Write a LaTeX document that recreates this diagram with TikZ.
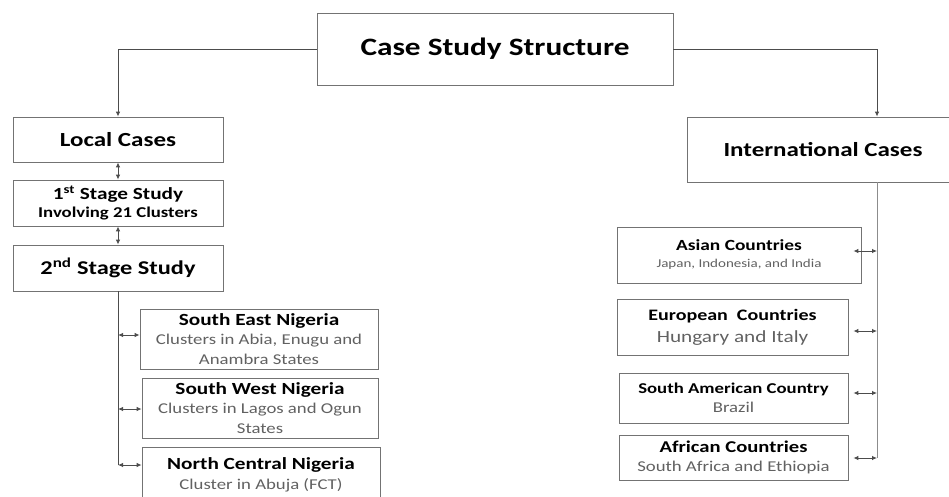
\documentclass[tikz,border=0pt]{standalone}
\usepackage{fontspec}
\setmainfont{Carlito}[FakeStretch=1.25]
\usetikzlibrary{arrows.meta,positioning,calc}

\newcommand\subtxt[2][15]{{\fontsize{#1}{#1}\selectfont\mdseries\color{black!62}#2}}

\begin{document}
\begin{tikzpicture}[x=1pt, y=-1pt,
  box/.style={draw=black!55, line width=0.8pt, align=center, inner sep=0pt},
  big/.style={font=\fontsize{25}{30}\selectfont\bfseries},
  head/.style={font=\fontsize{20}{24}\selectfont\bfseries},
  part/.style={font=\fontsize{17}{19.5}\selectfont\bfseries},
  line/.style={draw=black!70, line width=0.9pt},
  link/.style={line, -{Latex[length=5pt,width=4.5pt]}},
  both/.style={line, {Latex[length=5pt,width=4.5pt]}-{Latex[length=5pt,width=4.5pt]}},
]
\useasboundingbox (0,0) rectangle (949,497);

\node[box, big, minimum width=356pt, minimum height=72pt] (title) at (495,49) {Case Study Structure};

% local cases
\node[box, head, minimum width=210pt, minimum height=45pt] (local) at (118,139.5) {Local Cases};
\node[box, font=\fontsize{17}{18}\selectfont\bfseries, minimum width=210pt, minimum height=46pt] (stage1) at (118,203)
  {1\textsuperscript{st} Stage Study\\{\fontsize{15}{15}\selectfont Involving 21 Clusters}};
\node[box, font=\fontsize{19.5}{24}\selectfont\bfseries, minimum width=210pt, minimum height=46pt] (stage2) at (118,268)
  {2\textsuperscript{nd} Stage Study};

\node[box, part, minimum width=238pt, minimum height=60pt] (se) at (259,339)
  {South East Nigeria\\\subtxt{Clusters in Abia, Enugu and}\\\subtxt{Anambra States}};
\node[box, part, minimum width=236pt, minimum height=60pt] (sw) at (260,408)
  {South West Nigeria\\\subtxt{Clusters in Lagos and Ogun}\\\subtxt{States}};
\node[box, part, minimum width=238pt, minimum height=56pt] (nc) at (261,475)
  {North Central Nigeria\\\subtxt{Cluster in Abuja (FCT)}};

% international cases
\node[box, head, minimum width=272pt, minimum height=65pt] (intl) at (823,149.5) {International Cases};
\node[box, font=\fontsize{15.5}{17}\selectfont\bfseries, minimum width=244pt, minimum height=56pt] (asia) at (739,255)
  {Asian Countries\\\subtxt[12]{Japan, Indonesia, and India}};
\node[box, font=\fontsize{16}{22}\selectfont\bfseries, minimum width=231pt, minimum height=56pt] (euro) at (732.5,327)
  {European~ Countries\\\subtxt[17]{Hungary and Italy}};
\node[box, font=\fontsize{15}{19}\selectfont\bfseries, minimum width=229pt, minimum height=50pt] (samer) at (733.5,398)
  {South American Country\\\subtxt{Brazil}};
\node[box, font=\fontsize{16.5}{19}\selectfont\bfseries, minimum width=229pt, minimum height=45pt] (afr) at (733.5,457.5)
  {African Countries\\\subtxt{South Africa and Ethiopia}};

% connectors
\draw[link] (title.west) -| (local.north);
\draw[both] (local.south) -- (stage1.north);
\draw[both] (stage1.south) -- (stage2.north);
\coordinate (lend) at (118,465);
\draw[line] (stage2.south) -- (lend);
\foreach \y/\n in {335/se,409/sw,465/nc}{
  \coordinate (l\n) at (118,\y);
  \draw[both] (l\n) -- (l\n -| \n.west);
}

\coordinate (rend) at (877,458);
\draw[link] (title.east) -| (intl.north -| rend);
\draw[line, draw=black!45] (intl.south -| rend) -- (rend);
\foreach \y/\n/\gap in {251/asia/-8,331/euro/5,393/samer/5,458/afr/5}{
  \coordinate (r\n) at (877,\y);
  \draw[both, shorten >=\gap pt] (r\n) -- (r\n -| \n.east);
}
\end{tikzpicture}
\end{document}
